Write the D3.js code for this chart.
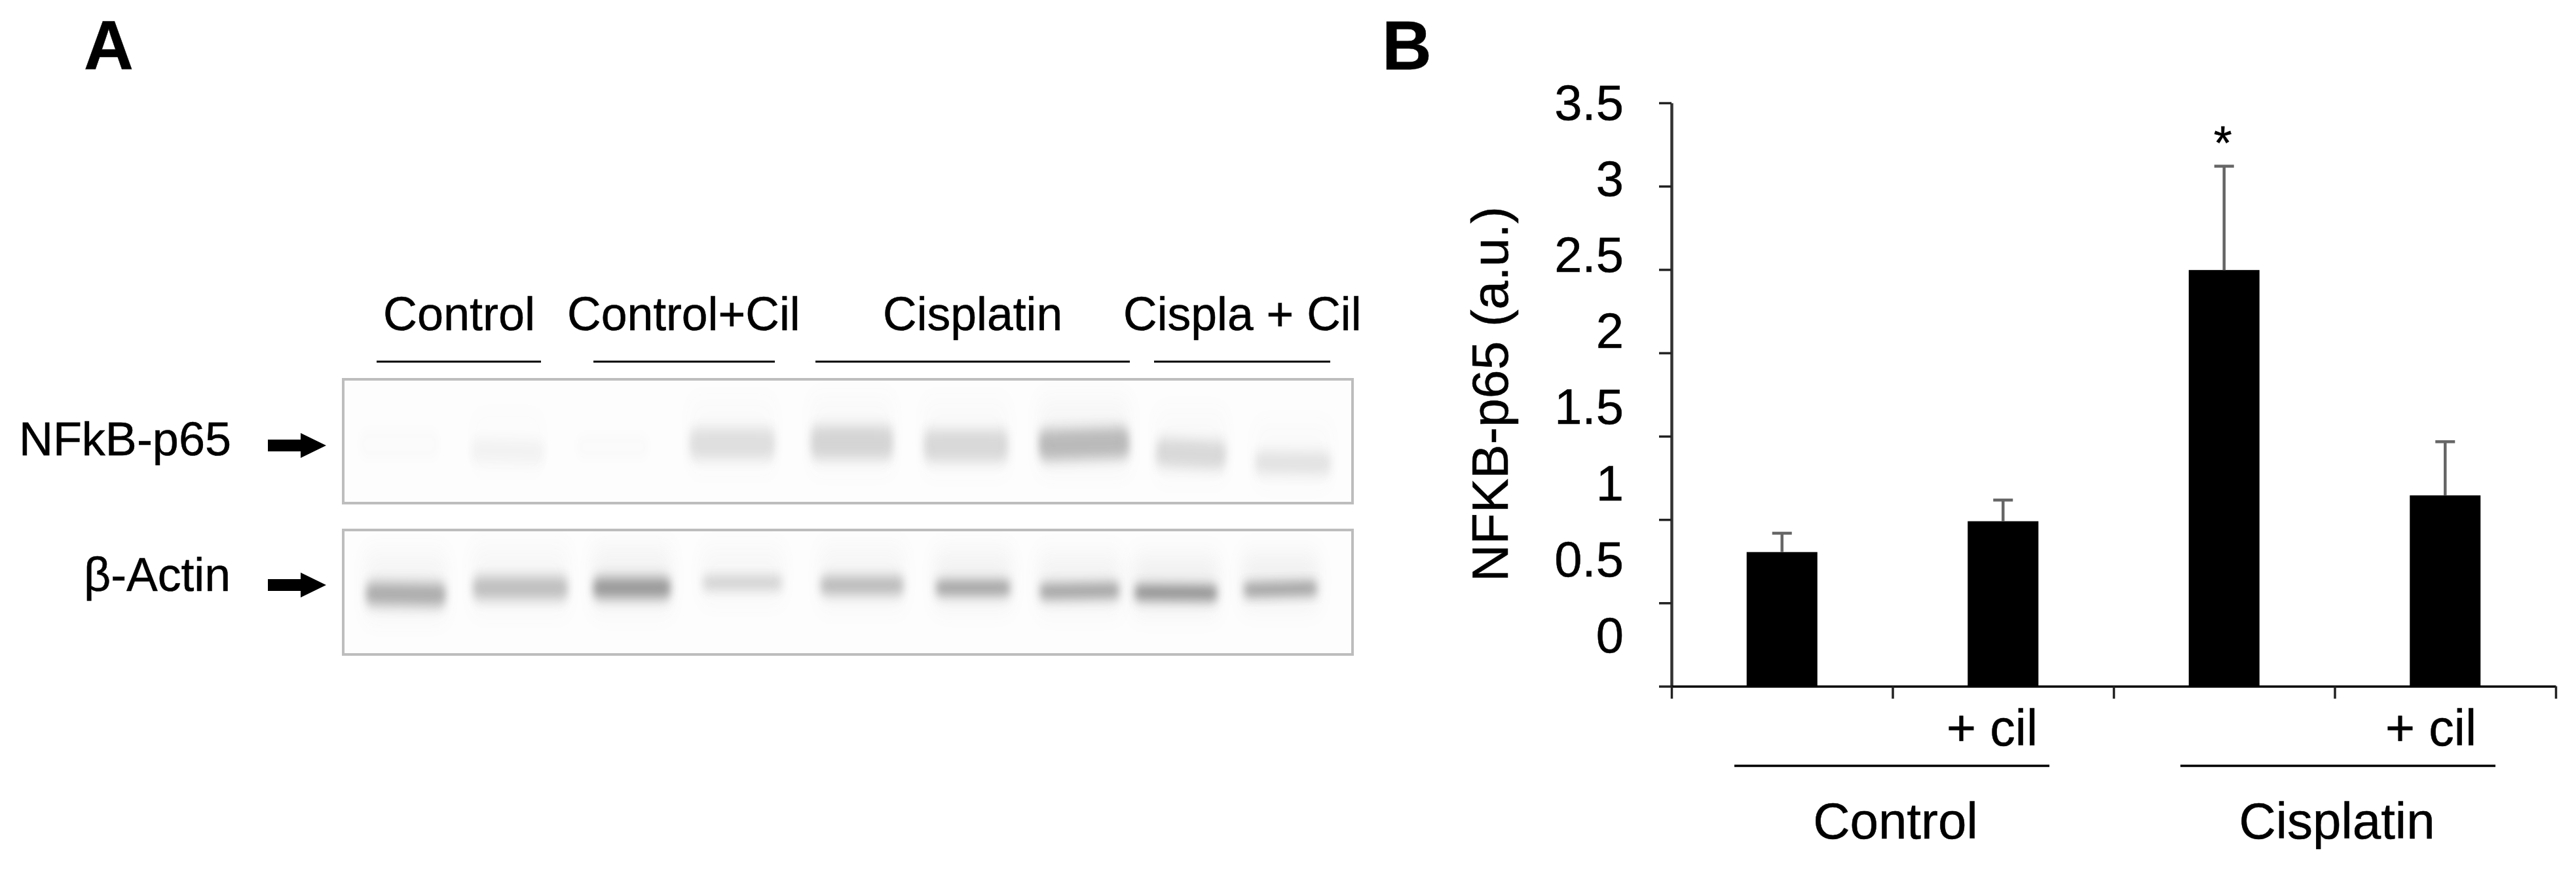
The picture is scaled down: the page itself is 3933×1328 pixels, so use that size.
<!DOCTYPE html>
<html>
<head>
<meta charset="utf-8">
<script src="https://d3js.org/d3.v7.min.js"></script>
<style>
  html, body { margin: 0; padding: 0; background: #fff; }
  svg { display: block; }
  text { font-family: "Liberation Sans", Arial, sans-serif; fill: #000; stroke: #000; stroke-width: 0.5px; }
</style>
</head>
<body>
<div id="chart"></div>
<script>
// panel B values
var categories = ["Control", "Control + cil", "Cisplatin", "Cisplatin + cil"];
var means = [0.805, 0.99, 2.497, 1.145];
var errorTops = [0.918, 1.117, 3.12, 1.467];
var yTicks = [0, 0.5, 1, 1.5, 2, 2.5, 3, 3.5];
var xTicks = [0, 1, 2, 3, 4];

// panel A band readings: lane extent and migration in % of the membrane,
// intensity as darkness 0-1, tilt in degrees
var p65Start = [1.6, 12.7, 23.1, 34.3, 46.3, 57.5, 68.9, 80.5, 90.3];
var p65End = [9.5, 19.9, 30.3, 42.8, 54.5, 65.9, 77.9, 87.5, 97.9];
var p65Top = [39, 47, 43, 38, 36, 39, 38, 47, 57];
var p65Bottom = [66, 69, 66, 66, 66, 68, 66, 73, 78];
var p65Intensity = [0.012, 0.05, 0.012, 0.15, 0.2, 0.18, 0.34, 0.18, 0.13];
var p65Tilt = [0, 2, 0, 0, 0, 0, -2, 3, 1];

var actinStart = [2.2, 12.8, 24.7, 35.5, 47.2, 58.6, 68.9, 78.3, 89.1];
var actinEnd = [10.2, 22.3, 32.5, 43.6, 55.6, 66.2, 77, 86.7, 96.6];
var actinTop = [41, 36, 37, 37, 36, 40, 42, 44, 42];
var actinBottom = [62, 57, 56, 48, 53, 53, 56, 57, 53];
var actinIntensity = [0.42, 0.32, 0.54, 0.3, 0.36, 0.58, 0.54, 0.7, 0.68];
var actinTilt = [1, 0, 0, 0, 0, 0, -1, 0.5, -1.5];

var width = 3933;
var height = 1328;

var svg = d3.select("#chart")
  .append("svg")
  .attr("width", width)
  .attr("height", height);

var defs = svg.append("defs");
defs.append("filter").attr("id", "bandBlur")
  .attr("x", "-40%").attr("y", "-120%").attr("width", "180%").attr("height", "340%")
  .append("feGaussianBlur").attr("stdDeviation", "6 10");
defs.append("filter").attr("id", "hazeBlur")
  .attr("x", "-30%").attr("y", "-100%").attr("width", "160%").attr("height", "300%")
  .append("feGaussianBlur").attr("stdDeviation", "12 20");

function addText(x, y, str, size, anchor, weight) {
  return svg.append("text")
    .attr("x", x)
    .attr("y", y)
    .attr("text-anchor", anchor || "start")
    .attr("font-weight", weight || "normal")
    .style("font-size", size + "px")
    .text(str);
}

function addRule(x1, x2, y, sw) {
  svg.append("line")
    .attr("x1", x1).attr("x2", x2)
    .attr("y1", y).attr("y2", y)
    .attr("stroke", "#000")
    .attr("stroke-width", sw);
}

// ---- panel A ----
addText(128, 106, "A", 105, "start", "bold");

addText(585, 504, "Control", 72);
addText(866, 504, "Control+Cil", 71.5);
addText(1348, 504, "Cisplatin", 71.5);
addText(1715, 504, "Cispla + Cil", 71.5);

addRule(575, 826, 552, 3);
addRule(906, 1183, 552, 3);
addRule(1245, 1725, 552, 3);
addRule(1762, 2031, 552, 3);

addText(353, 695, "NFkB-p65", 72, "end");
addText(352, 902, "β-Actin", 71.5, "end");

var blotX = d3.scaleLinear().domain([0, 100]).range([524, 2065]);

function drawBlot(id, yTop, yBottom, starts, ends, tops, bottoms, intensity, tilt) {
  var blotY = d3.scaleLinear().domain([0, 100]).range([yTop, yBottom]);

  defs.append("clipPath").attr("id", "clip-" + id)
    .append("rect")
    .attr("x", blotX(0)).attr("y", yTop)
    .attr("width", blotX(100) - blotX(0))
    .attr("height", yBottom - yTop);

  var g = svg.append("g").attr("class", "blot");
  g.append("rect")
    .attr("x", blotX(0)).attr("y", yTop)
    .attr("width", blotX(100) - blotX(0))
    .attr("height", yBottom - yTop)
    .attr("fill", "#fdfdfd");

  var lanes = g.append("g").attr("clip-path", "url(#clip-" + id + ")");

  // faint smear running above each band
  lanes.selectAll("rect.haze")
    .data(intensity)
    .enter().append("rect")
    .attr("class", "haze")
    .attr("x", function(d, i) { return blotX(starts[i]); })
    .attr("y", function(d, i) { return blotY(tops[i] - 22); })
    .attr("width", function(d, i) { return blotX(ends[i]) - blotX(starts[i]); })
    .attr("height", function(d, i) { return blotY(bottoms[i] + 8) - blotY(tops[i] - 22); })
    .attr("fill", "#777")
    .attr("opacity", function(d) { return d * 0.14; })
    .attr("filter", "url(#hazeBlur)");

  // the readings are visible extents, so pull the rect in a little to leave room for the blur
  lanes.selectAll("rect.band")
    .data(intensity)
    .enter().append("rect")
    .attr("class", "band")
    .attr("x", function(d, i) { return blotX(starts[i]); })
    .attr("y", function(d, i) { return blotY(tops[i]) + 3; })
    .attr("width", function(d, i) { return blotX(ends[i]) - blotX(starts[i]); })
    .attr("height", function(d, i) { return blotY(bottoms[i]) - blotY(tops[i]) - 6; })
    .attr("rx", 12)
    .attr("fill", "#444")
    .attr("opacity", function(d) { return d; })
    .attr("filter", "url(#bandBlur)")
    .attr("transform", function(d, i) {
      var cx = blotX((starts[i] + ends[i]) / 2);
      var cy = blotY((tops[i] + bottoms[i]) / 2);
      return "rotate(" + tilt[i] + " " + cx + " " + cy + ")";
    });

  g.append("rect")
    .attr("x", blotX(0)).attr("y", yTop)
    .attr("width", blotX(100) - blotX(0))
    .attr("height", yBottom - yTop)
    .attr("fill", "none")
    .attr("stroke", "#bdbdbd")
    .attr("stroke-width", 4);
}

drawBlot("p65", 579, 768, p65Start, p65End, p65Top, p65Bottom, p65Intensity, p65Tilt);
drawBlot("actin", 809, 999, actinStart, actinEnd, actinTop, actinBottom, actinIntensity, actinTilt);

function addArrow(y) {
  var p = d3.path();
  p.moveTo(409, y - 9);
  p.lineTo(459, y - 9);
  p.lineTo(459, y - 19);
  p.lineTo(498, y);
  p.lineTo(459, y + 19);
  p.lineTo(459, y + 9);
  p.lineTo(409, y + 9);
  p.closePath();
  svg.append("path").attr("d", p.toString()).attr("fill", "#000");
}
addArrow(680);
addArrow(893);

// ---- panel B ----
addText(2110, 106, "B", 105, "start", "bold");

var y = d3.scaleLinear().domain([0, 3.5]).range([1047.5, 157]);
// the printed tick labels sit on a tighter spacing than the tick marks
var yLabel = d3.scaleLinear().domain([0, 3.5]).range([971, 158]);

var xEdge = d3.scaleLinear().domain([0, 4]).range([2552, 3902]);
var x = d3.scaleBand()
  .domain(categories)
  .range([2552, 3902])
  .paddingInner(0.68)
  .paddingOuter(0.34);

var bars = svg.append("g").attr("class", "bars");
bars.selectAll("rect")
  .data(means)
  .enter().append("rect")
  .attr("x", function(d, i) { return x(categories[i]); })
  .attr("y", function(d) { return y(d); })
  .attr("width", x.bandwidth())
  .attr("height", function(d) { return y(0) - y(d); })
  .attr("fill", "#000");

var errors = svg.append("g").attr("class", "errors")
  .attr("stroke", "#666")
  .attr("stroke-width", 4.5);
errors.selectAll("line.stem")
  .data(errorTops)
  .enter().append("line")
  .attr("class", "stem")
  .attr("x1", function(d, i) { return x(categories[i]) + x.bandwidth() / 2; })
  .attr("x2", function(d, i) { return x(categories[i]) + x.bandwidth() / 2; })
  .attr("y1", function(d, i) { return y(means[i]); })
  .attr("y2", function(d) { return y(d); });
errors.selectAll("line.cap")
  .data(errorTops)
  .enter().append("line")
  .attr("class", "cap")
  .attr("x1", function(d, i) { return x(categories[i]) + x.bandwidth() / 2 - 15; })
  .attr("x2", function(d, i) { return x(categories[i]) + x.bandwidth() / 2 + 15; })
  .attr("y1", function(d) { return y(d); })
  .attr("y2", function(d) { return y(d); });

var yAxis = svg.append("g")
  .attr("transform", "translate(2552,0)")
  .call(d3.axisLeft(y).tickValues(yTicks).tickSize(19).tickSizeOuter(0).tickFormat(""));
yAxis.select(".domain").attr("stroke", "#333").attr("stroke-width", 4.5);
yAxis.selectAll(".tick line").attr("stroke", "#222").attr("stroke-width", 3.5);

var yLabels = svg.append("g")
  .attr("transform", "translate(2479,0)")
  .call(d3.axisLeft(yLabel).tickValues(yTicks).tickSize(0).tickPadding(0).tickFormat(d3.format("~g")));
yLabels.select(".domain").remove();
yLabels.selectAll("text").style("font-size", "76px").style("font-family", "'Liberation Sans', Arial, sans-serif").attr("fill", "#000");

var xAxis = svg.append("g")
  .attr("transform", "translate(0,1047.5)")
  .call(d3.axisBottom(xEdge).tickValues(xTicks).tickSize(19).tickSizeOuter(0).tickFormat(""));
xAxis.select(".domain").attr("stroke", "#000").attr("stroke-width", 3.5);
xAxis.selectAll(".tick line").attr("stroke", "#222").attr("stroke-width", 3.5);

svg.append("text")
  .attr("transform", "translate(2302,888) rotate(-90)")
  .style("font-size", "78.7px")
  .text("NFKB-p65 (a.u.)");

addText(x(categories[2]) + x.bandwidth() / 2 - 2, 243, "*", 72, "middle");

addText(3111, 1138, "+ cil", 77, "end");
addText(3781, 1138, "+ cil", 77, "end");

addRule(2648, 3129, 1169, 3.5);
addRule(3329, 3810, 1169, 3.5);

addText(2894, 1280, "Control", 78, "middle");
addText(3568, 1280, "Cisplatin", 78, "middle");
</script>
</body>
</html>
